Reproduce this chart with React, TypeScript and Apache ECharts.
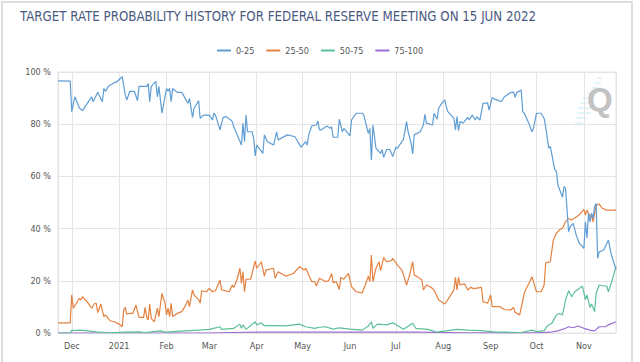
import React, { useEffect, useRef } from "react";
import * as echarts from "echarts";

const titleText = "TARGET RATE PROBABILITY HISTORY FOR FEDERAL RESERVE MEETING ON 15 JUN 2022";
const seriesNames = ["0-25", "25-50", "50-75", "75-100"];
const seriesColors = ["#5f9dd5", "#e5813f", "#5dbf98", "#9c6dd4"];
const monthLabels = ["2021", "Feb", "Mar", "Apr", "May", "Jun", "Jul", "Aug", "Sep", "Oct", "Nov", "Dec"];
const xStart = "2020-11-22";
const xEnd = "2021-11-22";

const rate0to25: [string, number][] = [
  ["2020-11-22", 96.6], ["2020-11-30", 96.5], ["2020-12-01", 84.8], ["2020-12-03", 90.5], ["2020-12-06", 86.2],
  ["2020-12-08", 85.2], ["2020-12-14", 90.5], ["2020-12-15", 88.6], ["2020-12-18", 92.2], ["2020-12-21", 88.6],
  ["2020-12-22", 93.7], ["2020-12-23", 92.6], ["2020-12-25", 94.5], ["2020-12-29", 96], ["2020-12-30", 96],
  ["2021-01-03", 98.2], ["2021-01-05", 91.2], ["2021-01-06", 89.3], ["2021-01-08", 92.6], ["2021-01-11", 92.6],
  ["2021-01-13", 89], ["2021-01-14", 94.5], ["2021-01-19", 94.5], ["2021-01-20", 95.6], ["2021-01-21", 88.6],
  ["2021-01-22", 94.5], ["2021-01-25", 96.4], ["2021-01-26", 90.5], ["2021-01-27", 94.5], ["2021-01-29", 84.2],
  ["2021-02-01", 93.7], ["2021-02-02", 92.6], ["2021-02-03", 93.7], ["2021-02-04", 88.6], ["2021-02-05", 93.7],
  ["2021-02-08", 92.2], ["2021-02-11", 92.2], ["2021-02-15", 88], ["2021-02-16", 89.9], ["2021-02-18", 82.6],
  ["2021-02-19", 86.1], ["2021-02-22", 89], ["2021-02-23", 82.2], ["2021-02-25", 83.5], ["2021-03-01", 83.5],
  ["2021-03-03", 81.6], ["2021-03-04", 84.2], ["2021-03-05", 83.5], ["2021-03-08", 77.8], ["2021-03-10", 82.6],
  ["2021-03-12", 82.9], ["2021-03-15", 81.6], ["2021-03-16", 81], ["2021-03-17", 79], ["2021-03-22", 72],
  ["2021-03-23", 80.4], ["2021-03-24", 73.3], ["2021-03-25", 83.5], ["2021-03-26", 77.1], ["2021-03-29", 77.1],
  ["2021-03-30", 74.6], ["2021-03-31", 67.8], ["2021-04-01", 72], ["2021-04-05", 68.8], ["2021-04-06", 75.9],
  ["2021-04-08", 73.3], ["2021-04-12", 72], ["2021-04-14", 77.1], ["2021-04-15", 74], ["2021-04-21", 75.9],
  ["2021-04-26", 75.2], ["2021-04-30", 71.2], ["2021-05-03", 73.3], ["2021-05-04", 72], ["2021-05-05", 75.9],
  ["2021-05-07", 79.3], ["2021-05-10", 79.7], ["2021-05-11", 81.2], ["2021-05-12", 77.8], ["2021-05-13", 77.8],
  ["2021-05-17", 79.3], ["2021-05-19", 78.4], ["2021-05-20", 79], ["2021-05-21", 75], ["2021-05-24", 75],
  ["2021-05-25", 81.9], ["2021-05-27", 77.1], ["2021-05-28", 78.4], ["2021-06-01", 75.5], ["2021-06-02", 81.6],
  ["2021-06-05", 84.2], ["2021-06-09", 84.2], ["2021-06-10", 83.5], ["2021-06-13", 76.5], ["2021-06-14", 78.4],
  ["2021-06-15", 66.3], ["2021-06-16", 79.7], ["2021-06-18", 70.8], ["2021-06-21", 68.8], ["2021-06-22", 70.3],
  ["2021-06-23", 67.3], ["2021-06-25", 70.3], ["2021-06-27", 70.3], ["2021-06-29", 67.6], ["2021-07-01", 71.2],
  ["2021-07-02", 70.8], ["2021-07-06", 74.2], ["2021-07-08", 81], ["2021-07-09", 77.1], ["2021-07-11", 72.7],
  ["2021-07-12", 68.6], ["2021-07-13", 75.9], ["2021-07-17", 77.1], ["2021-07-19", 79.7], ["2021-07-20", 83.8],
  ["2021-07-21", 80.4], ["2021-07-25", 79.7], ["2021-07-26", 84.2], ["2021-07-28", 81.9], ["2021-07-29", 86.1],
  ["2021-07-31", 88], ["2021-08-02", 89.3], ["2021-08-03", 86.7], ["2021-08-04", 84.8], ["2021-08-08", 82.2],
  ["2021-08-09", 77.8], ["2021-08-10", 82.9], ["2021-08-11", 77.5], ["2021-08-12", 81], ["2021-08-14", 80.4],
  ["2021-08-17", 82.6], ["2021-08-18", 81.6], ["2021-08-20", 83.5], ["2021-08-22", 81.6], ["2021-08-23", 82.9],
  ["2021-08-25", 81.6], ["2021-08-27", 88], ["2021-08-30", 88.2], ["2021-08-31", 85.4], ["2021-09-02", 90.2],
  ["2021-09-04", 89.5], ["2021-09-08", 88.6], ["2021-09-10", 90.5], ["2021-09-14", 92.1], ["2021-09-16", 92.3],
  ["2021-09-17", 90.3], ["2021-09-18", 92.1], ["2021-09-21", 93.1], ["2021-09-22", 84.8], ["2021-09-23", 84.2],
  ["2021-09-26", 80.4], ["2021-09-28", 77.1], ["2021-09-29", 78.4], ["2021-10-01", 84.2], ["2021-10-04", 84.2],
  ["2021-10-06", 82.2], ["2021-10-07", 79], ["2021-10-09", 70.8], ["2021-10-10", 71.5], ["2021-10-13", 62.5],
  ["2021-10-14", 62], ["2021-10-15", 56.7], ["2021-10-18", 52], ["2021-10-19", 56.1], ["2021-10-20", 55.5],
  ["2021-10-21", 47], ["2021-10-22", 38.8], ["2021-10-23", 40.7], ["2021-10-25", 42], ["2021-10-27", 37.5],
  ["2021-10-29", 34.4], ["2021-10-31", 33.1], ["2021-11-01", 32.4], ["2021-11-02", 42.6], ["2021-11-03", 36.4],
  ["2021-11-04", 45.9], ["2021-11-05", 42.6], ["2021-11-06", 45.9], ["2021-11-07", 43.9], ["2021-11-08", 48.4],
  ["2021-11-09", 49.6], ["2021-11-10", 28.6], ["2021-11-11", 31.1], ["2021-11-14", 31.8], ["2021-11-17", 35.6],
  ["2021-11-19", 29.9], ["2021-11-22", 24.3],
];

const rate25to50: [string, number][] = [
  ["2020-11-22", 3.9], ["2020-11-30", 3.9], ["2020-12-01", 14.6], ["2020-12-02", 9.5], ["2020-12-04", 11.4],
  ["2020-12-06", 13.3], ["2020-12-07", 12.6], ["2020-12-08", 13.9], ["2020-12-11", 12], ["2020-12-14", 9.5],
  ["2020-12-16", 11.4], ["2020-12-17", 11.4], ["2020-12-18", 7.8], ["2020-12-19", 9.5], ["2020-12-20", 11.1],
  ["2020-12-22", 6.3], ["2020-12-23", 6.9], ["2020-12-26", 4.7], ["2020-12-29", 4.3], ["2021-01-01", 3.4],
  ["2021-01-03", 2.4], ["2021-01-04", 8.8], ["2021-01-05", 9.8], ["2021-01-06", 7.2], ["2021-01-08", 7.5],
  ["2021-01-10", 7.5], ["2021-01-12", 10.7], ["2021-01-14", 6], ["2021-01-17", 6], ["2021-01-18", 9.8],
  ["2021-01-19", 6.3], ["2021-01-20", 5], ["2021-01-21", 11.1], ["2021-01-22", 5.6], ["2021-01-24", 4.3],
  ["2021-01-26", 9.5], ["2021-01-27", 6.3], ["2021-01-29", 15.2], ["2021-01-31", 11.4], ["2021-02-01", 6.9],
  ["2021-02-02", 9.5], ["2021-02-03", 6.3], ["2021-02-04", 11.4], ["2021-02-05", 6.3], ["2021-02-08", 7.5],
  ["2021-02-11", 8.2], ["2021-02-13", 10.1], ["2021-02-15", 12.6], ["2021-02-16", 10.1], ["2021-02-18", 16.5],
  ["2021-02-19", 14.6], ["2021-02-22", 12.8], ["2021-02-23", 11.4], ["2021-02-24", 16.2], ["2021-02-27", 15.8],
  ["2021-03-01", 17.1], ["2021-03-03", 15.8], ["2021-03-05", 16.2], ["2021-03-08", 20.3], ["2021-03-09", 16.5],
  ["2021-03-14", 15.8], ["2021-03-16", 18.4], ["2021-03-17", 17.5], ["2021-03-19", 20.3], ["2021-03-21", 24.8],
  ["2021-03-22", 19], ["2021-03-23", 23.5], ["2021-03-24", 15.8], ["2021-03-25", 20.6], ["2021-03-28", 20.6],
  ["2021-03-31", 27.6], ["2021-04-01", 24.8], ["2021-04-04", 27.3], ["2021-04-06", 21.8], ["2021-04-07", 24.1],
  ["2021-04-12", 24.8], ["2021-04-13", 21], ["2021-04-15", 23.5], ["2021-04-20", 21.8], ["2021-04-25", 22.8],
  ["2021-04-29", 25.4], ["2021-05-02", 24.1], ["2021-05-03", 24.8], ["2021-05-05", 22.2], ["2021-05-07", 19.7],
  ["2021-05-09", 19.7], ["2021-05-10", 18], ["2021-05-12", 21], ["2021-05-16", 19.7], ["2021-05-18", 20],
  ["2021-05-20", 22.8], ["2021-05-21", 19.3], ["2021-05-23", 19.7], ["2021-05-25", 16.7], ["2021-05-26", 21.3],
  ["2021-05-28", 20.6], ["2021-05-31", 22.8], ["2021-06-02", 17.8], ["2021-06-05", 15.8], ["2021-06-09", 15.4],
  ["2021-06-11", 18.4], ["2021-06-13", 21.8], ["2021-06-14", 19.7], ["2021-06-15", 29.9], ["2021-06-16", 19.7],
  ["2021-06-18", 24.8], ["2021-06-20", 27.3], ["2021-06-21", 23.9], ["2021-06-23", 29], ["2021-06-25", 27.3],
  ["2021-06-28", 27.7], ["2021-06-29", 28.6], ["2021-07-02", 26], ["2021-07-05", 24.1], ["2021-07-08", 18.4],
  ["2021-07-10", 22.2], ["2021-07-12", 27.3], ["2021-07-13", 22.2], ["2021-07-15", 21.6], ["2021-07-18", 20.3],
  ["2021-07-19", 16.5], ["2021-07-21", 18.4], ["2021-07-24", 17.5], ["2021-07-26", 16.5], ["2021-07-29", 12.6],
  ["2021-08-02", 11.1], ["2021-08-04", 12.8], ["2021-08-08", 16.5], ["2021-08-09", 21.3], ["2021-08-10", 16.5],
  ["2021-08-11", 21.3], ["2021-08-12", 18.4], ["2021-08-15", 18.8], ["2021-08-17", 16.5], ["2021-08-19", 17.5],
  ["2021-08-21", 17], ["2021-08-22", 17.1], ["2021-08-26", 17.5], ["2021-08-27", 12], ["2021-08-30", 11.4],
  ["2021-09-01", 14.6], ["2021-09-02", 10.1], ["2021-09-07", 10.1], ["2021-09-10", 9], ["2021-09-14", 8.8],
  ["2021-09-16", 9.8], ["2021-09-17", 7.9], ["2021-09-20", 6.9], ["2021-09-22", 12.4], ["2021-09-23", 15.4],
  ["2021-09-26", 19], ["2021-09-28", 21.6], ["2021-09-29", 19.7], ["2021-10-01", 15.8], ["2021-10-04", 15.8],
  ["2021-10-06", 18.4], ["2021-10-07", 26.9], ["2021-10-10", 27.3], ["2021-10-12", 35.6], ["2021-10-14", 38.2],
  ["2021-10-16", 39.5], ["2021-10-18", 40.1], ["2021-10-20", 42.6], ["2021-10-22", 43.9], ["2021-10-24", 43.3],
  ["2021-10-28", 44.8], ["2021-10-30", 45.9], ["2021-11-01", 47.4], ["2021-11-02", 45.2], ["2021-11-03", 47.1],
  ["2021-11-05", 44.6], ["2021-11-06", 45.2], ["2021-11-07", 42.6], ["2021-11-09", 49], ["2021-11-11", 49.4],
  ["2021-11-13", 47.8], ["2021-11-16", 47.1], ["2021-11-21", 47.1], ["2021-11-22", 47],
];

const rate50to75: [string, number][] = [
  ["2020-11-22", 0], ["2020-11-30", 0], ["2020-12-01", 1.1], ["2020-12-03", 0.9], ["2020-12-06", 1.1],
  ["2020-12-10", 0.9], ["2020-12-17", 0.4], ["2020-12-26", 0.1], ["2021-01-05", 0.3], ["2021-01-14", 0.4],
  ["2021-01-18", 0.2], ["2021-01-28", 0.8], ["2021-02-01", 0.3], ["2021-02-13", 0.8], ["2021-02-22", 1.1],
  ["2021-03-01", 1.4], ["2021-03-08", 2.4], ["2021-03-09", 1.4], ["2021-03-17", 1.8], ["2021-03-21", 3.4],
  ["2021-03-22", 1.8], ["2021-03-23", 3.1], ["2021-03-25", 1.4], ["2021-03-31", 4.3], ["2021-04-01", 3.1],
  ["2021-04-04", 3.9], ["2021-04-06", 2.8], ["2021-04-13", 2.8], ["2021-04-20", 2.7], ["2021-04-29", 3.4],
  ["2021-05-03", 2.4], ["2021-05-09", 1.8], ["2021-05-12", 2.2], ["2021-05-16", 2.4], ["2021-05-21", 1.5],
  ["2021-05-25", 2], ["2021-06-01", 1.5], ["2021-06-09", 1.1], ["2021-06-13", 2.7], ["2021-06-15", 4.3],
  ["2021-06-16", 1.8], ["2021-06-19", 3.4], ["2021-06-25", 3.1], ["2021-06-29", 3.9], ["2021-07-06", 1.4],
  ["2021-07-12", 3.7], ["2021-07-14", 1.8], ["2021-07-22", 1.4], ["2021-07-28", 0.3], ["2021-08-10", 1.4],
  ["2021-08-17", 1.1], ["2021-08-26", 0.9], ["2021-09-03", 0.4], ["2021-09-12", 0.3], ["2021-09-21", 0.2],
  ["2021-09-28", 1.1], ["2021-10-01", 0.5], ["2021-10-06", 0.9], ["2021-10-08", 2.7], ["2021-10-11", 3.7],
  ["2021-10-14", 6.9], ["2021-10-16", 7.5], ["2021-10-18", 6.9], ["2021-10-20", 12.6], ["2021-10-22", 16.2],
  ["2021-10-24", 13.9], ["2021-10-26", 15.8], ["2021-10-30", 17.5], ["2021-10-31", 18], ["2021-11-02", 12.8],
  ["2021-11-03", 14.6], ["2021-11-05", 9.8], ["2021-11-06", 11.1], ["2021-11-08", 8.2], ["2021-11-09", 15.2],
  ["2021-11-11", 18.4], ["2021-11-14", 18], ["2021-11-16", 18], ["2021-11-17", 15.8], ["2021-11-19", 19.3],
  ["2021-11-22", 25.4],
];

const rate75to100: [string, number][] = [
  ["2020-11-22", 0], ["2021-03-01", 0], ["2021-03-15", 0.2], ["2021-04-01", 0.3], ["2021-06-01", 0.3],
  ["2021-07-15", 0.3], ["2021-08-15", 0.1], ["2021-09-15", 0.05], ["2021-10-01", 0.1], ["2021-10-10", 0.3],
  ["2021-10-15", 0.8], ["2021-10-20", 1.8], ["2021-10-22", 2.4], ["2021-10-25", 2], ["2021-10-28", 2.7],
  ["2021-11-01", 1.8], ["2021-11-05", 1.1], ["2021-11-08", 0.8], ["2021-11-11", 2.4], ["2021-11-15", 2.4],
  ["2021-11-17", 3.1], ["2021-11-22", 4.3],
];

const allSeries = [rate0to25, rate25to50, rate50to75, rate75to100];

const logoLines: [number, number, number][] = [
  [78, 597, 602], [83, 594, 601], [88, 591, 599], [93, 587, 597], [98, 583, 595],
  [103, 580, 594], [108, 578, 593], [113, 577, 591], [118, 576, 588], [123, 575, 583],
];

export default function App() {
  const ref = useRef<HTMLDivElement>(null);
  useEffect(() => {
    document.body.style.margin = "0";
    const chart = echarts.init(ref.current!, undefined, { renderer: "svg" });
    const gridColor = "#e4e4e4";
    const font = "'Liberation Sans Narrow', 'DejaVu Sans Condensed', Roboto, sans-serif";
    chart.setOption({
      animation: false,
      backgroundColor: "#ffffff",
      textStyle: { fontFamily: font },
      legend: {
        top: 41,
        left: "center",
        icon: "rect",
        itemWidth: 14,
        itemHeight: 2,
        itemGap: 12,
        textStyle: { fontSize: 9, color: "#555" },
        data: seriesNames,
      },
      grid: {
        left: 58,
        right: 24,
        top: 72,
        bottom: 29,
        show: true,
        borderColor: gridColor,
        borderWidth: 1,
      },
      xAxis: {
        type: "time",
        min: xStart,
        max: xEnd,
        minInterval: 28 * 86400000,
        maxInterval: 31 * 86400000,
        axisLine: { show: false },
        axisTick: { show: false },
        splitLine: { show: true, lineStyle: { color: gridColor, width: 1 } },
        axisLabel: {
          fontSize: 9,
          color: "#555",
          margin: 8,
          formatter: (v: number) => {
            const d = new Date(v);
            const m = d.getMonth();
            return m === 0 ? String(d.getFullYear()) : monthLabels[m];
          },
        },
      },
      yAxis: {
        type: "value",
        min: 0,
        max: 100,
        interval: 20,
        axisLine: { show: false },
        axisTick: { show: false },
        splitLine: { lineStyle: { color: gridColor, width: 1 } },
        axisLabel: { fontSize: 9, color: "#555", margin: 7, formatter: "{value} %" },
      },
      series: allSeries.map((data, i) => ({
        name: seriesNames[i],
        type: "line",
        symbol: "none",
        data,
        lineStyle: { width: 1.2, color: seriesColors[i] },
        itemStyle: { color: seriesColors[i] },
        z: 4 - i,
      })),
      graphic: [
        {
          type: "rect",
          shape: { x: 2, y: 2, width: 630, height: 380 },
          style: { fill: "none", stroke: "#dedede", lineWidth: 2 },
          silent: true,
        },
        {
          type: "text",
          x: 20,
          y: 10,
          style: {
            text: titleText,
            fontSize: 13.2,
            fill: "#4a5a80",
            fontFamily: font,
          },
        },
        ...logoLines.map(([y, x1, x2]) => ({
          type: "line",
          shape: { x1, y1: y, x2, y2: y },
          style: { stroke: "#c8eaf6", lineWidth: 1 },
          silent: true,
        })),
        {
          type: "text",
          x: 587,
          y: 83,
          style: {
            text: "Q",
            fontSize: 33,
            fontWeight: "bold",
            fill: "#c2c2c2",
            fontFamily: "'Liberation Sans', Arial, sans-serif",
          },
        },
      ],
    });
    return () => chart.dispose();
  }, []);
  return <div ref={ref} style={{ width: 640, height: 362 }} />;
}
